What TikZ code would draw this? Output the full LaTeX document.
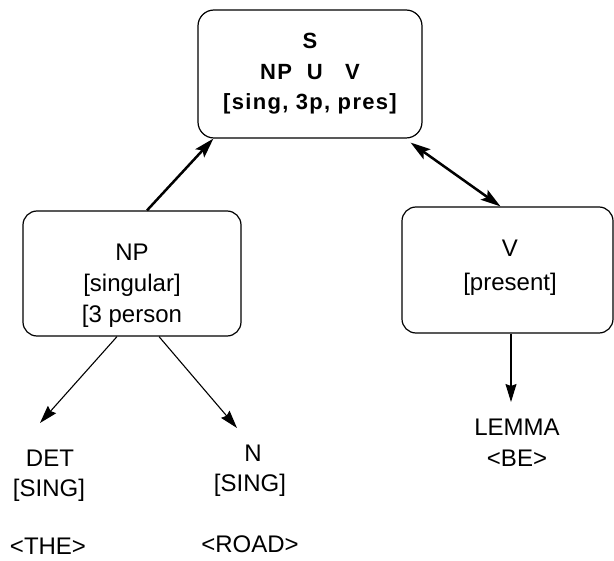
\documentclass[tikz,border=0pt]{standalone}
\usepackage{fontspec}
\setmainfont{Liberation Sans}
\newfontfamily\headfont{Liberation Sans}[LetterSpace=6]
\usetikzlibrary{arrows.meta}
\tikzset{
    box/.style={draw, rounded corners=14pt, line width=1.2pt},
    boxtext/.style={align=center, font=\fontsize{24}{31}\selectfont},
    leaf/.style={anchor=base, font=\fontsize{24}{28}\selectfont},
    link/.style={line width=2.5pt, -{Stealth[length=20pt,width=12pt,inset=4pt]}},
    sublink/.style={line width=1.1pt, -{Stealth[length=18pt,width=11pt,inset=2pt]}}
}
\begin{document}
\begin{tikzpicture}[x=1pt,y=-1pt]
    \useasboundingbox (0,0) rectangle (614,561);
    % sentence node
    \node (s) [box, rounded corners=16pt, minimum width=224pt, minimum height=128pt,
        align=center, font=\headfont\bfseries\fontsize{22}{30.5}\selectfont] at (310,74)
        {S\\NP\ \ U\ \ \ V\\{[sing, 3p, pres]}};
    % noun phrase and verb
    \node (np) [box, minimum width=218pt, minimum height=125pt] at (132,273.5) {};
    \node (nptext) [boxtext] at (132,286) {NP\\{[singular]}\\{[3 person}};
    \node (v) [box, minimum width=211pt, minimum height=126pt] at (507.5,270) {};
    \node (vtext) [boxtext, font=\fontsize{24}{34}\selectfont] at (510,267.5) {V\\{[present]}};
    % leaves
    \node (det) [leaf] at (50,466.5) {DET};
    \node (detnum) [leaf] at (49,496.5) {[SING]};
    \node (detform) [leaf] at (48,555) {<THE>};
    \node (n) [leaf] at (253,461.5) {N};
    \node (nnum) [leaf] at (250,491.5) {[SING]};
    \node (nform) [leaf] at (250,553) {<ROAD>};
    \node (lemma) [leaf] at (517,435.5) {LEMMA};
    \node (lemmaform) [leaf] at (517,466.5) {<BE>};
    \coordinate (detin) at (40,423);
    \coordinate (nin) at (237,428);
    \coordinate (lemmain) at (511,402);
    % connectors
    \draw [link] ([xshift=15pt]np.north) -- ([xshift=16pt]s.south west);
    \draw [link, {Stealth[length=20pt,width=12pt,inset=4pt]}-{Stealth[length=20pt,width=12pt,inset=4pt]}]
        ([xshift=-12pt,yshift=-4pt]s.south east) -- ([xshift=-7pt]v.north);
    \draw [sublink] ([xshift=-15pt]np.south) -- (detin);
    \draw [sublink] ([xshift=27pt]np.south) -- (nin);
    \draw [sublink] ([xshift=3.5pt]v.south) -- (lemmain);
\end{tikzpicture}
\end{document}
